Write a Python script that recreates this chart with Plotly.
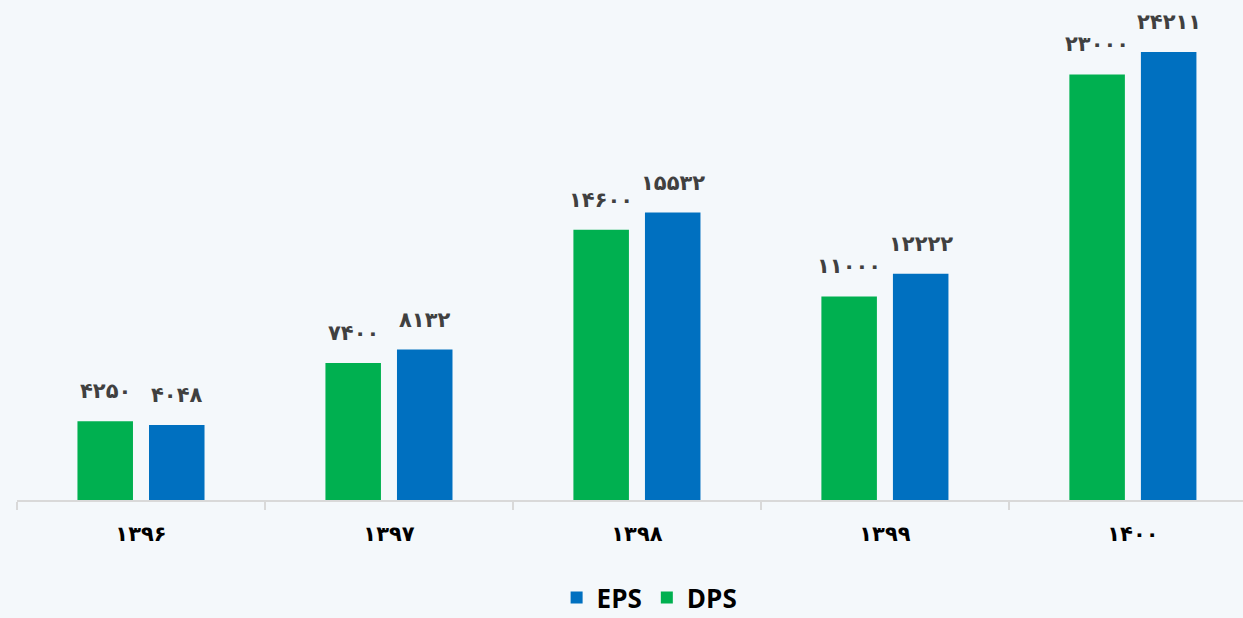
import plotly.graph_objects as go

categories = ["۱۳۹۶", "۱۳۹۷", "۱۳۹۸", "۱۳۹۹", "۱۴۰۰"]
dps_values = [4250, 7400, 14600, 11000, 23000]
eps_values = [4048, 8132, 15532, 12222, 24211]

PERSIAN = str.maketrans("0123456789", "۰۱۲۳۴۵۶۷۸۹")


def fa(n):
    return str(n).translate(PERSIAN)


GREEN = "#00B050"
BLUE = "#0070C0"
BG = "#F4F8FB"

fig = go.Figure()
fig.add_trace(go.Bar(name="DPS", x=categories, y=dps_values, marker_color=GREEN,
                     marker_line_width=0))
fig.add_trace(go.Bar(name="EPS", x=categories, y=eps_values, marker_color=BLUE,
                     marker_line_width=0))

label_font = dict(family="DejaVu Sans", size=21, color="#404040")
for series, shift in ((dps_values, -35.75), (eps_values, 35.75)):
    for c, v in zip(categories, series):
        fig.add_annotation(x=c, y=v, xref="x", yref="y", text="<b>" + fa(v) + "</b>",
                           showarrow=False, yanchor="bottom", xshift=shift, yshift=16,
                           font=label_font)

fig.update_layout(
    width=1243, height=618,
    paper_bgcolor=BG, plot_bgcolor=BG,
    margin=dict(l=17, r=0, t=0, b=118, autoexpand=False),
    barmode="group", bargap=0.423, bargroupgap=0.224,
    showlegend=True,
    legend=dict(orientation="h", traceorder="reversed", x=0.516, xanchor="center",
                y=-0.195, yanchor="middle",
                font=dict(family="Open Sans", size=26, color="#000000", weight="bold"),
                itemwidth=30, bgcolor="rgba(0,0,0,0)"),
    xaxis=dict(type="category", range=[-0.5, 4.444], showgrid=False,
               showline=True, linecolor="#D9D9D9", linewidth=2,
               ticks="outside", tickson="boundaries", ticklen=8, tickcolor="#D9D9D9",
               tickwidth=2, ticklabelstandoff=14,
               tickfont=dict(family="DejaVu Sans", size=21, color="#000000", weight="bold"),
               fixedrange=True),
    yaxis=dict(range=[0, 27021], visible=False, showgrid=False, zeroline=False),
)

fig.write_html("out.html")
